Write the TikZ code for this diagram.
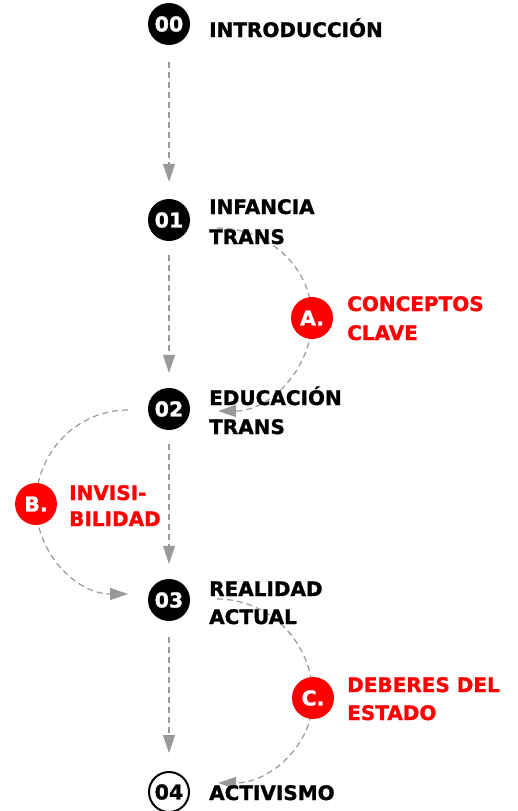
\documentclass[tikz,border=0pt]{standalone}
\usepackage{fontspec}
\setmainfont{DejaVu Sans}
\newfontfamily\hfont{DejaVu Sans}[BoldFeatures={FakeBold=1.2}]
\usetikzlibrary{arrows.meta,backgrounds}
\definecolor{redC}{HTML}{FF0000}
\definecolor{grayC}{HTML}{999999}
\begin{document}
\begin{tikzpicture}[x=1pt,y=-1pt,
  num/.style={circle,fill=black,text=white,minimum size=42pt,inner sep=0pt,
    font=\hfont\fontsize{20.5}{22}\selectfont\bfseries},
  numo/.style={circle,fill=white,draw=black,line width=2pt,text=black,minimum size=40pt,inner sep=0pt,
    font=\hfont\fontsize{20.5}{22}\selectfont\bfseries},
  redc/.style={circle,fill=redC,text=white,minimum size=42pt,inner sep=0pt,
    font=\hfont\fontsize{20.5}{22}\selectfont\bfseries},
  lbl/.style={anchor=base west,inner sep=0pt,align=left,text=black},
  lblr/.style={lbl,text=redC},
  flow/.style={draw=grayC,line width=1.2pt,dash pattern=on 6pt off 4pt,
    -{Triangle[length=18pt,width=12pt]}},
]
\useasboundingbox (0,0) rectangle (517,811);

\node[num] (n0) at (169,24) {00};
\node[num] (n1) at (169,220) {01};
\node[num] (n2) at (169,409) {02};
\node[num] (n3) at (169,600) {03};
\node[numo] (n4) at (169,792) {04};
\node[redc] (cA) at (312,318) {A.};
\node[redc] (cB) at (36,504) {B.};
\node[redc] (cC) at (313,698) {C.};

\node[lbl,font=\hfont\fontsize{20}{30}\selectfont\bfseries] (t0) at (209,37) {INTRODUCCIÓN};
\node[lbl,font=\hfont\fontsize{20}{30}\selectfont\bfseries] (t1) at (209,244) {INFANCIA\\TRANS};
\node[lbl,font=\hfont\fontsize{20}{29}\selectfont\bfseries] (t2) at (209,434) {EDUCACIÓN\\TRANS};
\node[lbl,font=\hfont\fontsize{20}{28}\selectfont\bfseries] (t3) at (209,624) {REALIDAD\\ACTUAL};
\node[lbl,font=\hfont\fontsize{20}{30}\selectfont\bfseries] (t4) at (209,800) {ACTIVISMO};
\node[lblr,font=\hfont\fontsize{20}{29}\selectfont\bfseries] (tA) at (347,340) {CONCEPTOS\\CLAVE};
\node[lblr,font=\hfont\fontsize{20}{26}\selectfont\bfseries] (tB) at (69,526) {INVISI-\\BILIDAD};
\node[lblr,font=\hfont\fontsize{20}{28}\selectfont\bfseries] (tC) at (347,720) {DEBERES DEL\\ESTADO};

\coordinate (sA) at (217,228);
\coordinate (eA) at (218,411);
\coordinate (sB) at (128,410);
\coordinate (eB) at (128,594);
\coordinate (sC) at (217,599);
\coordinate (eC) at (218,783);

\begin{scope}[on background layer]
\fill[white] (0,0) rectangle (517,811);
\draw[flow,shorten <=17pt,shorten >=17pt] (n0) -- (n1);
\draw[flow,shorten <=14pt,shorten >=15pt] (n1) -- (n2);
\draw[flow,shorten <=14pt,shorten >=15pt] (n2) -- (n3);
\draw[flow,shorten <=16pt,shorten >=18pt] (n3) -- (n4);
\draw[flow] (sA) .. controls (269,228) and (312,268) .. (cA.center)
  .. controls (312,369) and (270,411) .. (eA);
\draw[flow] (sB) .. controls (77,410) and (36,452) .. (cB.center)
  .. controls (36,554) and (77,594) .. (eB);
\draw[flow] (sC) .. controls (270,599) and (313,643) .. (cC.center)
  .. controls (313,745) and (270,783) .. (eC);
\end{scope}
\end{tikzpicture}
\end{document}
